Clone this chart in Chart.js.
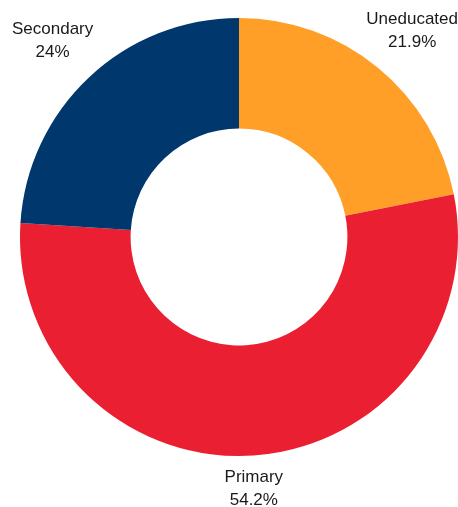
<!DOCTYPE html>
<html>
<head>
<meta charset="utf-8">
<script src="https://cdn.jsdelivr.net/npm/chart.js@4/dist/chart.umd.min.js"></script>
<style>
  html, body { margin: 0; padding: 0; background: #ffffff; }
  #wrap { position: relative; width: 458px; height: 507px; }
</style>
</head>
<body>
<div id="wrap"><canvas id="chart"></canvas></div>
<script>
// Education level shares (%)
const categories = ['Uneducated', 'Primary', 'Secondary'];
const shares = [21.9, 54.2, 24];
const sliceColors = ['#FF9F28', '#EA1F32', '#00376D'];

// Two-line outside labels: name above, percentage below
const outsideLabels = {
  id: 'outsideLabels',
  afterDatasetsDraw(chart) {
    const ctx = chart.ctx;
    const meta = chart.getDatasetMeta(0);
    const W = chart.width;
    const lineH = 23;
    ctx.save();
    ctx.font = '17px "Liberation Sans", Arial, sans-serif';
    ctx.fillStyle = '#1a1a1a';
    ctx.textAlign = 'center';
    ctx.textBaseline = 'middle';
    meta.data.forEach((arc, i) => {
      const p = arc.getProps(['x', 'y', 'startAngle', 'endAngle', 'outerRadius'], true);
      const mid = (p.startAngle + p.endAngle) / 2;
      const sx = Math.cos(mid), sy = Math.sin(mid);
      const r = p.outerRadius + 6;
      const ax = p.x + r * sx, ay = p.y + r * sy;
      const lines = [categories[i], shares[i] + '%'];
      const w = Math.max(...lines.map(t => ctx.measureText(t).width));
      const h = lineH * lines.length;
      let left = sx > 0.3 ? ax : (sx < -0.3 ? ax - w : ax - w / 2);
      let top = sy < -0.3 ? ay - h - 9 : (sy > 0.3 ? ay + 4 : ay - h / 2);
      left = Math.min(Math.max(left, 12), W - w);
      top = Math.max(top, 0);
      lines.forEach((t, k) => {
        ctx.fillText(t, left + w / 2, top + lineH * (k + 0.5));
      });
    });
    ctx.restore();
  }
};

new Chart(document.getElementById('chart'), {
  type: 'doughnut',
  data: {
    labels: categories,
    datasets: [{
      data: shares,
      backgroundColor: sliceColors,
      borderWidth: 0,
      hoverOffset: 0
    }]
  },
  options: {
    responsive: true,
    maintainAspectRatio: false,
    animation: false,
    cutout: '49.5%',
    layout: { padding: { left: 20, right: 0, top: 18, bottom: 51 } },
    plugins: {
      legend: { display: false },
      tooltip: { enabled: false }
    }
  },
  plugins: [outsideLabels]
});
</script>
</body>
</html>
